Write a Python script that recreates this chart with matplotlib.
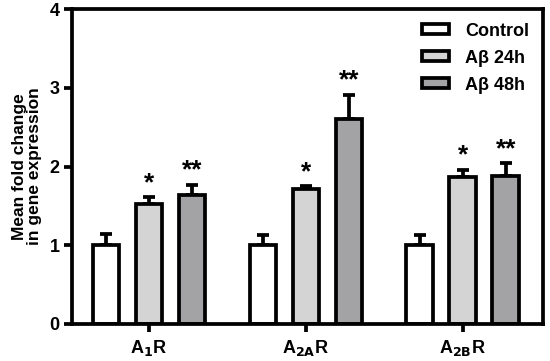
import matplotlib
matplotlib.use("Agg")
import matplotlib.pyplot as plt
import numpy as np

plt.rcParams['font.family'] = ['Liberation Sans', 'DejaVu Sans']
plt.rcParams['font.weight'] = 'bold'
plt.rcParams['mathtext.default'] = 'bf'

categories = [r'A$_\mathbf{1}$R', r'A$_\mathbf{2A}$R', r'A$_\mathbf{2B}$R']
series_names = ['Control', 'Aβ 24h', 'Aβ 48h']
control = [1.0, 1.0, 1.0]
control_err = [0.14, 0.13, 0.13]
ab24 = [1.52, 1.71, 1.87]
ab24_err = [0.09, 0.04, 0.09]
ab48 = [1.64, 2.61, 1.88]
ab48_err = [0.13, 0.30, 0.16]
sig24 = ['*', '*', '*']
sig48 = ['**', '**', '**']
yticks = [0, 1, 2, 3, 4]

colors = ['white', '#d4d4d4', '#a3a3a6']
lw = 2.7

fig = plt.figure(figsize=(5.5, 3.61), dpi=100)
ax = fig.add_axes([0.131, 0.1025, 0.856, 0.872])

x = np.arange(len(categories))
off = 0.274
w = 0.17
allvals = [control, ab24, ab48]
allerr = [control_err, ab24_err, ab48_err]
for i, (vals, errs) in enumerate(zip(allvals, allerr)):
    pos = x + (i - 1) * off
    ax.bar(pos, vals, w, color=colors[i], edgecolor='black', linewidth=lw,
           label=series_names[i], zorder=2)
    ax.errorbar(pos, vals, yerr=[np.zeros(len(vals)), errs], fmt='none',
                ecolor='black', elinewidth=lw, capsize=4.5, capthick=lw, zorder=1)

for j in range(len(categories)):
    ax.text(x[j], ab24[j] + ab24_err[j] + 0.03, sig24[j], ha='center', va='bottom',
            fontsize=19, fontweight='bold')
    ax.text(x[j] + off, ab48[j] + ab48_err[j] + 0.03, sig48[j], ha='center', va='bottom',
            fontsize=19, fontweight='bold')

ax.set_xlim(-0.49, 2.51)
ax.set_ylim(0, 4)
ax.set_yticks(yticks)
ax.set_xticks(x)
ax.set_xticklabels(categories, fontsize=13, fontweight='bold')
ax.tick_params(axis='y', labelsize=13, width=lw, length=6, pad=3)
ax.tick_params(axis='x', width=lw, length=6, pad=4)
for lab in ax.get_yticklabels():
    lab.set_fontweight('bold')
for s in ax.spines.values():
    s.set_linewidth(lw)
ax.set_ylabel('Mean fold change\nin gene expression', fontsize=12.5, fontweight='bold',
              linespacing=1.0, labelpad=5)

leg = ax.legend(loc='upper right', frameon=False, handlelength=1.5,
                handleheight=0.5, borderaxespad=0.35, labelspacing=0.55,
                handletextpad=0.9, prop={'weight': 'bold', 'size': 13})

fig.savefig('out.png', dpi=100)
